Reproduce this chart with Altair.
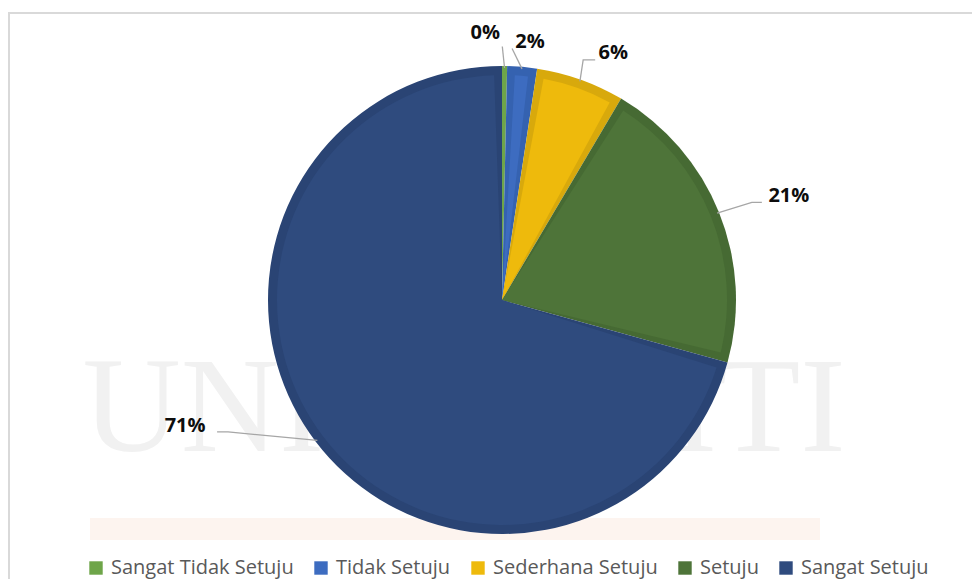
import math
import altair as alt
import pandas as pd

# ---- data ----
categories = ["Sangat Tidak Setuju", "Tidak Setuju", "Sederhana Setuju", "Setuju", "Sangat Setuju"]
values = [0.35, 2.05, 6.1, 20.8, 70.7]
labels = ["0%", "2%", "6%", "21%", "71%"]

# ---- styles ----
fill_colors = ["#6ea549", "#3d6cc0", "#eeba0c", "#4e7439", "#2f4b7e"]
edge_colors = ["#6ea549", "#3562b0", "#d8a90c", "#466a33", "#2a4474"]
label_shift_deg = [-4.2, 1.25, 4.6, 2.1, 15.6]
label_radius = [268, 260, 271, 305, 341]
leader_end = [(17, 14), (-18, 7), (-18, 7), (-27, 6), (32, 6)]
leader_elbow = [(17, 14), (-18, 7), (-30, 7), (-37, 6), (43, 6)]

W, H = 964, 571
CX, CY, R = 494, 292, 234

df = pd.DataFrame({
    "cat": categories,
    "value": values,
    "order": list(range(len(values))),
    "edge": edge_colors,
})

# label & leader geometry derived from the data's cumulative angles
cum = 0.0
lab_rows, line_rows = [], []
for i, v in enumerate(values):
    mid = (cum + v / 2) / 100 * 360
    cum += v
    a = math.radians(mid + label_shift_deg[i])
    lx = CX + label_radius[i] * math.sin(a)
    ly = CY - label_radius[i] * math.cos(a)
    lab_rows.append({"x": lx, "y": ly, "label": labels[i]})
    am = math.radians(mid)
    sx = CX + (R - 2) * math.sin(am)
    sy = CY - (R - 2) * math.cos(am)
    pts = [(sx, sy),
           (lx + leader_elbow[i][0], ly + leader_elbow[i][1]),
           (lx + leader_end[i][0], ly + leader_end[i][1])]
    for k, (px, py) in enumerate(pts):
        line_rows.append({"slice": i, "seq": k, "x": px, "y": py})

lab_df = pd.DataFrame(lab_rows)
line_df = pd.DataFrame(line_rows)

xs = alt.Scale(domain=[0, W], range=[0, W])
ys = alt.Scale(domain=[0, H], range=[0, H])

one = alt.Data(values=[{}])

border_left = alt.Chart(one).mark_rule(color="#d9d9d9", strokeWidth=2).encode(
    x=alt.value(1), y=alt.value(5), y2=alt.value(H + 8))
border_top = alt.Chart(one).mark_rule(color="#d9d9d9", strokeWidth=2).encode(
    x=alt.value(0), x2=alt.value(W + 8), y=alt.value(5))

band = alt.Chart(one).mark_rect(color="#fdf4ef").encode(
    x=alt.value(82), x2=alt.value(812), y=alt.value(510), y2=alt.value(532))
watermark = alt.Chart(one).mark_text(
    font="Liberation Serif", fontSize=136, color="#f1f1f1", baseline="middle", align="center"
).encode(x=alt.value(456), y=alt.value(402), text=alt.value("UNIVERSITI"))

outer = alt.Chart(df).mark_arc(radius=R).encode(
    theta=alt.Theta("value:Q", stack=True),
    order=alt.Order("order:Q"),
    color=alt.Color("edge:N", scale=None),
    x=alt.value(CX), y=alt.value(CY),
)

inner = alt.Chart(df).mark_arc(radius=R - 9, padAngle=0.07).encode(
    theta=alt.Theta("value:Q", stack=True),
    order=alt.Order("order:Q"),
    color=alt.Color(
        "cat:N",
        scale=alt.Scale(domain=categories, range=fill_colors),
        sort=categories,
        legend=alt.Legend(
            title=None, orient="none", direction="horizontal", columns=5,
            legendX=78, legendY=550, symbolType="square", symbolSize=180,
            symbolStrokeWidth=0, labelFont="Open Sans", labelFontSize=20,
            labelColor="#595959", columnPadding=17, labelOffset=5, padding=0,
            labelLimit=400,
        ),
    ),
    x=alt.value(CX), y=alt.value(CY),
)

leaders = alt.Chart(line_df).mark_line(color="#a6a6a6", strokeWidth=1.3).encode(
    x=alt.X("x:Q", scale=xs, axis=None),
    y=alt.Y("y:Q", scale=ys, axis=None),
    detail="slice:N",
    order="seq:Q",
)

texts = alt.Chart(lab_df).mark_text(
    font="Open Sans", fontSize=20, fontWeight="bold", color="#0d0d0d",
    align="center", baseline="middle"
).encode(
    x=alt.X("x:Q", scale=xs, axis=None),
    y=alt.Y("y:Q", scale=ys, axis=None),
    text="label:N",
)

chart = alt.layer(band, watermark, border_left, border_top, outer, inner, leaders, texts).properties(
    width=W, height=H, padding=0, autosize=alt.AutoSizeParams(type="none")
).configure_view(stroke=None)

chart.save("out.html", embed_options={"renderer": "svg", "actions": False})
